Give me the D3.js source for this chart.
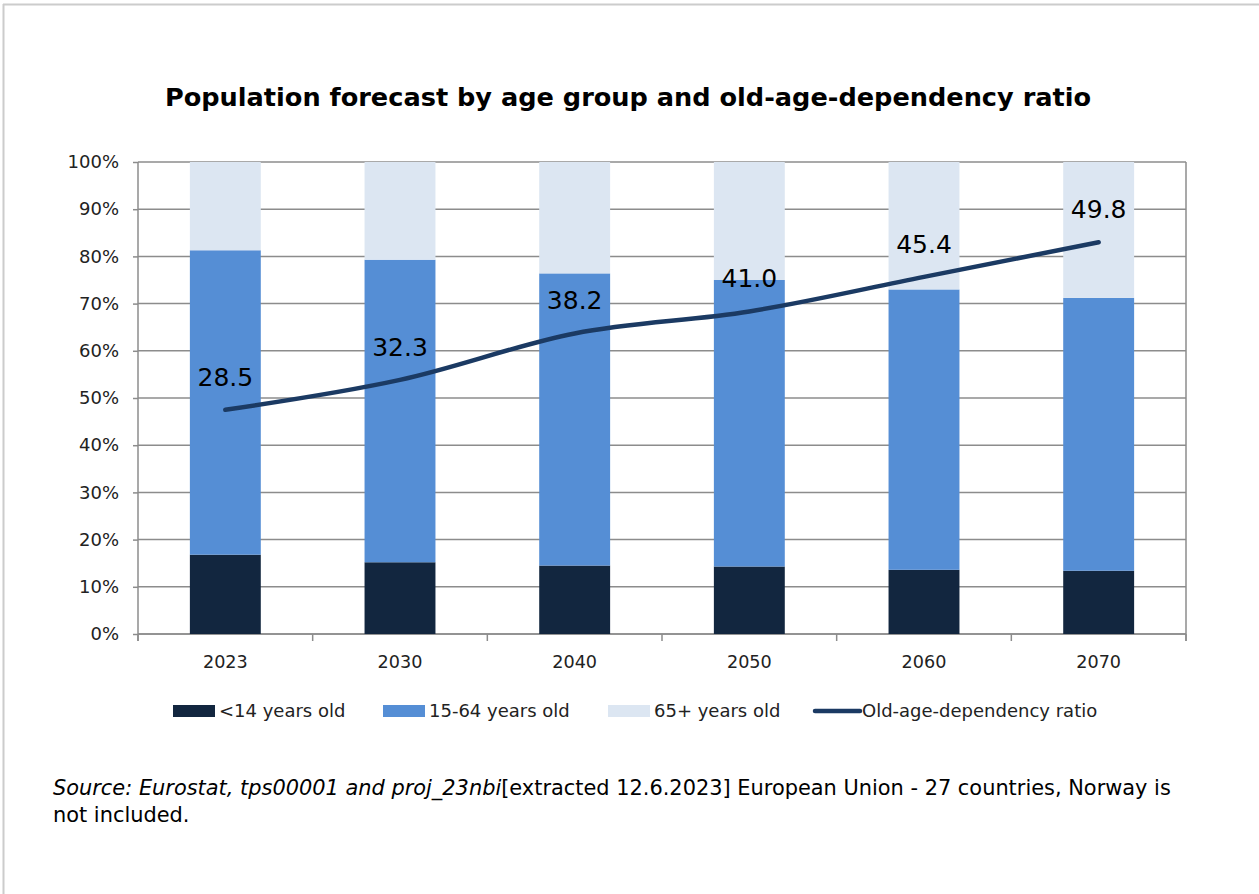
<!DOCTYPE html>
<html>
<head>
<meta charset="utf-8">
<script src="https://cdn.jsdelivr.net/npm/d3@7"></script>
<style>
  html, body { margin: 0; padding: 0; background: #fff; }
  svg { display: block; font-family: "DejaVu Sans", sans-serif; }
</style>
</head>
<body>
<svg id="chart" width="1259" height="894"></svg>
<script>
// Population shares (%) by age group, and old-age-dependency ratio
const years = ["2023", "2030", "2040", "2050", "2060", "2070"];
const under14 = [16.8, 15.2, 14.5, 14.3, 13.6, 13.4];
const age15to64 = [64.5, 64.1, 61.9, 60.7, 59.4, 57.8];
const age65plus = [18.7, 20.7, 23.6, 25.0, 27.0, 28.8];
const dependencyRatio = [28.5, 32.3, 38.2, 41.0, 45.4, 49.8];
const yTicks = [0, 10, 20, 30, 40, 50, 60, 70, 80, 90, 100];

const seriesNames = ["<14 years old", "15-64 years old", "65+ years old"];
const seriesColors = ["#12263f", "#558ed5", "#dce6f2"];
const lineColor = "#1b3a63";

const svg = d3.select("#chart");
const W = 1259, H = 894;
const plot = { left: 138, right: 1186, top: 162, bottom: 634 };

// outer frame (top and left edges)
svg.append("line").attr("x1", 3).attr("x2", W).attr("y1", 4.5).attr("y2", 4.5)
  .attr("stroke", "#cccccc").attr("stroke-width", 2);
svg.append("line").attr("x1", 3.5).attr("x2", 3.5).attr("y1", 4).attr("y2", H)
  .attr("stroke", "#cccccc").attr("stroke-width", 2);

// title
svg.append("text")
  .attr("x", 628).attr("y", 106)
  .attr("text-anchor", "middle")
  .attr("font-weight", "bold")
  .attr("font-size", 25.6)
  .attr("fill", "#000")
  .text("Population forecast by age group and old-age-dependency ratio");

const x = d3.scaleBand().domain(years).range([plot.left, plot.right]).paddingInner(0.594).paddingOuter(0.297);
const y = d3.scaleLinear().domain([0, 100]).range([plot.bottom, plot.top]);
// secondary (unlabelled) scale for the dependency ratio
const y2 = d3.scaleLinear().domain([0, 60]).range([plot.bottom, plot.top]);

// gridlines
const grid = svg.append("g");
grid.selectAll("line").data(yTicks).join("line")
  .attr("x1", plot.left).attr("x2", plot.right)
  .attr("y1", d => y(d)).attr("y2", d => y(d))
  .attr("stroke", "#8c8c8c").attr("stroke-width", 1.5);

// right border of plot area
svg.append("line").attr("x1", plot.right).attr("x2", plot.right)
  .attr("y1", plot.top).attr("y2", plot.bottom + 7)
  .attr("stroke", "#8c8c8c").attr("stroke-width", 1.5);

// y axis
const yAxis = svg.append("g").attr("transform", `translate(${plot.left},0)`)
  .call(d3.axisLeft(y).tickValues(yTicks).tickFormat(d => d + "%").tickSize(5).tickPadding(14));
yAxis.select(".domain").attr("stroke", "#8c8c8c").attr("stroke-width", 1.5)
  .attr("d", `M0,${plot.top}V${plot.bottom + 7}`);
yAxis.selectAll(".tick line").attr("stroke", "#8c8c8c").attr("stroke-width", 1.5);
yAxis.selectAll(".tick text").attr("font-size", 18).attr("fill", "#222")
  .attr("font-family", "DejaVu Sans, sans-serif");

// x axis
const xAxis = svg.append("g").attr("transform", `translate(0,${plot.bottom})`)
  .call(d3.axisBottom(x).tickSize(0).tickPadding(22));
xAxis.select(".domain").attr("stroke", "#8c8c8c").attr("stroke-width", 1.5)
  .attr("d", `M${plot.left},0H${plot.right}`);
xAxis.selectAll(".tick text").attr("font-size", 17.6).attr("fill", "#222")
  .attr("font-family", "DejaVu Sans, sans-serif");
// category boundary ticks
const bounds = d3.range(years.length + 1).map(i => plot.left + i * (plot.right - plot.left) / years.length);
xAxis.selectAll(".bound").data(bounds).join("line").attr("class", "bound")
  .attr("x1", d => d).attr("x2", d => d).attr("y1", 0).attr("y2", 7)
  .attr("stroke", "#8c8c8c").attr("stroke-width", 1.5);

// stacked bars
const rows = years.map((yr, i) => ({ year: yr, s0: under14[i], s1: age15to64[i], s2: age65plus[i] }));
const stack = d3.stack().keys(["s0", "s1", "s2"])(rows);
svg.append("g").selectAll("g").data(stack).join("g")
  .attr("fill", (d, i) => seriesColors[i])
  .selectAll("rect").data(d => d).join("rect")
  .attr("x", d => x(d.data.year))
  .attr("width", x.bandwidth())
  .attr("y", d => y(d[1]))
  .attr("height", d => y(d[0]) - y(d[1]));

// dependency ratio line
const line = d3.line()
  .x((d, i) => x(years[i]) + x.bandwidth() / 2)
  .y(d => y2(d))
  .curve(d3.curveMonotoneX);
svg.append("path").datum(dependencyRatio)
  .attr("d", line)
  .attr("fill", "none")
  .attr("stroke", lineColor)
  .attr("stroke-width", 4.5)
  .attr("stroke-linecap", "round");

// value labels
svg.append("g").selectAll("text").data(dependencyRatio).join("text")
  .attr("x", (d, i) => x(years[i]) + x.bandwidth() / 2)
  .attr("y", d => y2(d) - 33)
  .attr("dy", "0.36em")
  .attr("text-anchor", "middle")
  .attr("font-size", 25)
  .attr("fill", "#000")
  .text(d => d.toFixed(1));

// legend
const legend = svg.append("g").attr("font-size", 18).attr("fill", "#222");
const legendItems = [
  { name: seriesNames[0], color: seriesColors[0], x: 173, type: "rect" },
  { name: seriesNames[1], color: seriesColors[1], x: 383, type: "rect" },
  { name: seriesNames[2], color: seriesColors[2], x: 608, type: "rect" },
  { name: "Old-age-dependency ratio", color: lineColor, x: 815, type: "line" }
];
const ly = 711;
legendItems.forEach(it => {
  if (it.type === "rect") {
    legend.append("rect").attr("x", it.x).attr("y", ly - 6).attr("width", 42).attr("height", 12).attr("fill", it.color);
    legend.append("text").attr("x", it.x + 46).attr("y", ly).attr("dy", "0.36em").text(it.name);
  } else {
    legend.append("line").attr("x1", it.x).attr("x2", it.x + 45).attr("y1", ly).attr("y2", ly)
      .attr("stroke", it.color).attr("stroke-width", 4.5).attr("stroke-linecap", "round");
    legend.append("text").attr("x", it.x + 47).attr("y", ly).attr("dy", "0.36em").text(it.name);
  }
});

// source note
const note = svg.append("text").attr("x", 53).attr("y", 795).attr("font-size", 20.9).attr("fill", "#000");
note.append("tspan").attr("font-style", "italic").text("Source: Eurostat, tps00001 and proj_23nbi");
note.append("tspan").text("[extracted 12.6.2023] European Union - 27 countries, Norway is");
svg.append("text").attr("x", 53).attr("y", 822).attr("font-size", 20.9).attr("fill", "#000").text("not included.");
</script>
</body>
</html>
